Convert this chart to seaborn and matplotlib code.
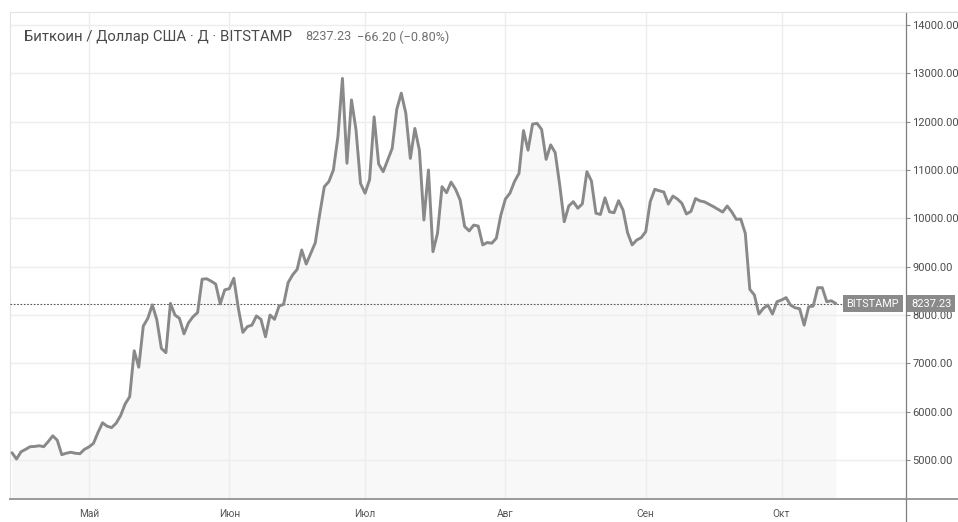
import matplotlib
matplotlib.use("Agg")
import pandas as pd
import seaborn as sns
import matplotlib.pyplot as plt
import matplotlib.transforms as mtrans
from matplotlib.lines import Line2D

# daily closes, BTC/USD Bitstamp, 14 Apr - 13 Oct 2019
apr = [5150, 5020, 5170, 5220, 5275, 5280, 5295, 5275, 5380, 5500, 5410, 5110,
       5140, 5160, 5140, 5130, 5220]
may = [5270, 5345, 5570, 5770, 5700, 5670, 5760, 5920, 6160, 6310,
       7260, 6920, 7770, 7930, 8210, 7900, 7310, 7220, 8240, 8000,
       7930, 7610, 7840, 7965, 8050, 8740, 8750, 8700, 8640, 8230, 8520]
jun = [8545, 8760, 8140, 7640, 7760, 7790, 7980, 7910, 7550, 8000,
       7910, 8185, 8220, 8670, 8830, 8945, 9345, 9055, 9275, 9495,
       10100, 10655, 10760, 11000, 11690, 12895, 11140, 12450, 11830, 10720]
jul = [10520, 10800, 12100, 11125, 10965, 11205, 11450, 12255, 12590, 12175,
       11240, 11860, 11410, 9965, 11000, 9310, 9690, 10655, 10530, 10750,
       10600, 10380, 9830, 9740, 9860, 9840, 9450, 9500, 9485, 9590, 10070]
aug = [10400, 10520, 10760, 10930, 11815, 11410, 11950, 11965, 11840, 11220,
       11520, 11360, 10690, 9930, 10255, 10345, 10210, 10300, 10965, 10775,
       10105, 10080, 10425, 10135, 10115, 10365, 10170, 9700, 9450, 9550, 9600]
sep = [9725, 10345, 10600, 10570, 10545, 10295, 10460, 10400, 10310, 10090,
       10145, 10410, 10360, 10340, 10290, 10240, 10185, 10130, 10255, 10135,
       9980, 9985, 9690, 8530, 8415, 8020, 8140, 8205, 8020, 8275]
octo = [8310, 8360, 8205, 8150, 8130, 7790, 8170, 8185, 8565, 8565, 8275, 8295, 8237.23]

month_starts = ["2019-05-01", "2019-06-01", "2019-07-01", "2019-08-01", "2019-09-01", "2019-10-01"]
month_labels = ["Май", "Июн", "Июл", "Авг", "Сен", "Окт"]
y_ticks = [5000, 6000, 7000, 8000, 9000, 10000, 11000, 12000, 13000, 14000]

last_price = 8237.23
title = "Биткоин / Доллар США · Д · BITSTAMP"
change = "−66.20 (−0.80%)"

df = pd.DataFrame({
    "date": pd.date_range("2019-04-14", "2019-10-13", freq="D"),
    "price": apr + may + jun + jul + aug + sep + octo,
})

sns.set_style("white")
plt.rcParams["font.family"] = ["Roboto", "DejaVu Sans"]

W, H = 958, 522
fig = plt.figure(figsize=(W / 100, H / 100), dpi=100)
ax = fig.add_axes([10 / W, 23 / H, 896 / W, 487 / H])

ymin, ymax = 4193, 14269
ax.fill_between(df["date"], df["price"], ymin, color="#f8f8f8", lw=0, zorder=0.2)
sns.lineplot(data=df, x="date", y="price", ax=ax, color="#898989", lw=2.1, zorder=3)

start = df["date"].iloc[0]
ax.set_xlim(start - pd.Timedelta(days=0.44), start + pd.Timedelta(days=197.5))
ax.set_ylim(ymin, ymax)

ax.set_xticks(pd.to_datetime(month_starts))
ax.set_xticklabels(month_labels)
ax.set_yticks(y_ticks)
ax.set_yticklabels([f"{v:.2f}" for v in y_ticks])
ax.yaxis.tick_right()
ax.set_xlabel("")
ax.set_ylabel("")

ax.grid(True, color="#ededed", lw=1)
ax.set_axisbelow("line")
ax.tick_params(axis="y", length=3, width=0.8, color="#8a8a8a", labelsize=8,
               labelcolor="#4d4d4d", pad=1.5)
ax.tick_params(axis="x", length=3, width=0.8, color="#8a8a8a", labelsize=7.3,
               labelcolor="#555555", pad=4)

for side in ["left", "top"]:
    ax.spines[side].set_color("#e3e3e3")
    ax.spines[side].set_linewidth(0.8)
ax.spines["right"].set_color("#7d7d7d")
ax.spines["right"].set_linewidth(0.9)
ax.spines["bottom"].set_color("#9a9a9a")
ax.spines["bottom"].set_linewidth(1.4)

# last-price line and labels
ax.axhline(last_price, xmax=(843 - 10) / 896, color="#555555", lw=0.8,
           ls=(0, (1.5, 1.5)), zorder=2.8)
tr = mtrans.blended_transform_factory(ax.transAxes, ax.transData)
ax.text((899 - 10) / 896, last_price, "BITSTAMP", transform=tr, ha="right", va="center",
        fontsize=7.8, color="white",
        bbox=dict(boxstyle="square,pad=0.35", fc="#8a8a8a", ec="none"))
ax.text((911 - 10) / 896, last_price, f"{last_price:.2f}", transform=tr, ha="left",
        va="center", fontsize=8, color="white",
        bbox=dict(boxstyle="square,pad=0.35", fc="#8a8a8a", ec="none"))

# frame pieces outside the axes
fig.add_artist(Line2D([906 / W, 1], [23 / H, 23 / H], color="#9a9a9a", lw=1.4))
fig.add_artist(Line2D([906 / W, 906 / W], [0, 23 / H], color="#7d7d7d", lw=0.9))
fig.add_artist(Line2D([906 / W, 1], [1 - 12 / H, 1 - 12 / H], color="#e3e3e3", lw=0.8))

# header
fig.text(24 / W, 1 - 37 / H, title, fontsize=10.7, color="#4a4a4a", va="center")
fig.text(305 / W, 1 - 37 / H, f"{last_price:.2f}", fontsize=9.1, color="#707070", va="center")
fig.text(357 / W, 1 - 37 / H, change, fontsize=9.1, color="#707070", va="center")

fig.savefig("out.png", dpi=100)
